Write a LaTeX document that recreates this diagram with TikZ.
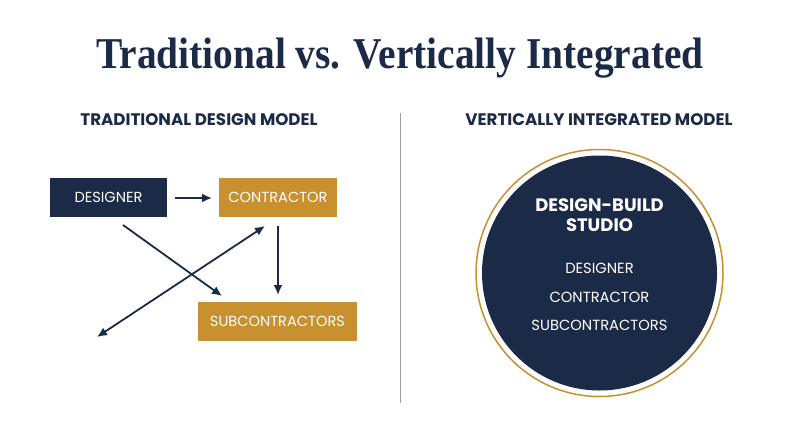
\documentclass[tikz,border=0pt]{standalone}
\usepackage{fontspec}
\setmainfont{Liberation Serif}
\newfontfamily\uisans{Poppins}
\usetikzlibrary{arrows.meta}
\definecolor{navy}{HTML}{1B2A47}
\definecolor{gold}{HTML}{C8902F}
\definecolor{divider}{HTML}{A0A0A0}
\begin{document}
\begin{tikzpicture}[x=1pt,y=-1pt,
  box/.style={minimum height=39pt,inner sep=0pt,text=white,font=\uisans\fontsize{14.6}{16}\selectfont},
  navybox/.style={box,fill=navy},
  goldbox/.style={box,fill=gold},
  tip/.tip={Latex[length=10pt,width=9pt]},
  link/.style={draw=navy,line width=1.8pt,-tip},
  sub/.style={text=navy,font=\uisans\fontsize{16.7}{18}\selectfont\bfseries},
  intxt/.style={text=white,font=\uisans\fontsize{14.7}{16}\selectfont}]
\useasboundingbox[fill=white] (0,0) rectangle (800,447);
\node[text=navy,font=\fontsize{44}{48}\selectfont\bfseries] (title) at (400,58) {\scalebox{0.895}[1]{Traditional vs. Vertically Integrated}};
\node[sub] (lsub) at (199,120) {TRADITIONAL DESIGN MODEL};
\node[sub] (rsub) at (599,120) {VERTICALLY INTEGRATED MODEL};
\coordinate (dtop) at (400,113);
\coordinate (dbot) at (400,403);
\draw[divider,line width=1pt] (dtop) -- (dbot);
\node[navybox,minimum width=117pt] (des) at (108.5,197.5) {DESIGNER};
\node[goldbox,minimum width=118pt] (con) at (278,197.5) {CONTRACTOR};
\node[goldbox,minimum width=159pt] (sub) at (277.5,321.5) {SUBCONTRACTORS};
\coordinate (a1s) at (175,198);
\coordinate (a1e) at (212,198);
\draw[link] (a1s) -- (a1e);
\coordinate (a2s) at (123,225);
\coordinate (a2e) at (222,296);
\draw[link] (a2s) -- (a2e);
\coordinate (a3s) at (278,226);
\coordinate (a3e) at (278,295);
\draw[link] (a3s) -- (a3e);
\coordinate (a4s) at (265,226);
\coordinate (a4e) at (97,337);
\draw[link,tip-tip] (a4e) -- (a4s);
\node[circle,draw=gold,line width=1.5pt,minimum size=247pt,inner sep=0pt] (ring) at (599.5,273) {};
\node[circle,fill=navy,minimum size=235pt,inner sep=0pt] (disc) at (599.5,273) {};
\node[text=white,font=\uisans\fontsize{18}{20}\selectfont\bfseries,align=center] (dbs) at (599.5,215) {DESIGN-BUILD\\STUDIO};
\node[intxt] (t1) at (599.5,268) {DESIGNER};
\node[intxt] (t2) at (599.5,297) {CONTRACTOR};
\node[intxt] (t3) at (599.5,325) {SUBCONTRACTORS};
\end{tikzpicture}
\end{document}
